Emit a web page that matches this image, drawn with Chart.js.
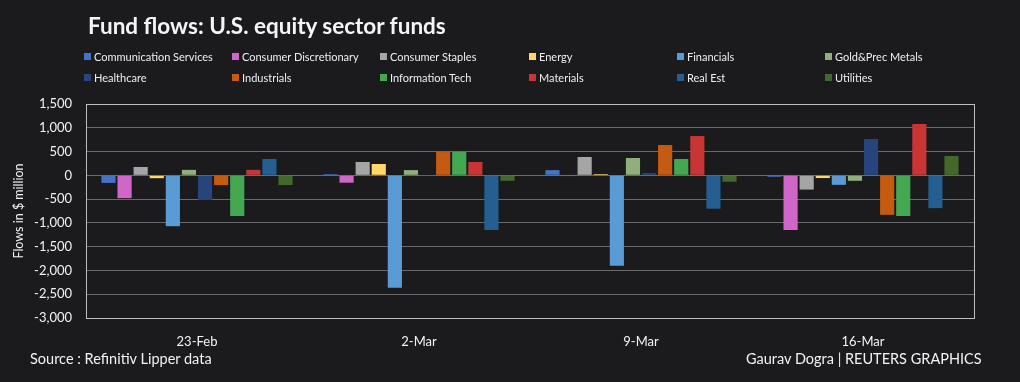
<!DOCTYPE html>
<html>
<head>
<meta charset="utf-8">
<script src="https://cdn.jsdelivr.net/npm/chart.js@4"></script>
<style>
  html, body { margin: 0; padding: 0; background: #1b1b1d; }
  #wrap { position: relative; width: 1020px; height: 382px; font-family: Lato, "Open Sans", sans-serif; color: #f2f2f2; }
  #chart { position: absolute; left: 0; top: 0; }
  .title { position: absolute; left: 88px; top: 12px; font-size: 22.5px; font-weight: bold; color: #f5f5f5; }
  .leg { position: absolute; font-size: 11px; color: #eeeeee; white-space: nowrap; line-height: 12px; }
  .leg i { display: inline-block; width: 7px; height: 7px; margin-right: 3px; vertical-align: 1px; }
  .foot { position: absolute; top: 350px; font-size: 14.5px; color: #f2f2f2; }
</style>
</head>
<body>
<div id="wrap">
  <canvas id="chart" width="1020" height="382"></canvas>
  <div class="title">Fund flows: U.S. equity sector funds</div>
  <div id="legend"></div>
  <div class="foot" style="left:30px">Source : Refinitiv Lipper data</div>
  <div class="foot" style="left:746px">Gaurav Dogra | REUTERS GRAPHICS</div>
</div>
<script>
const weeks = ["23-Feb", "2-Mar", "9-Mar", "16-Mar"];
const sectors = ["Communication Services", "Consumer Discretionary", "Consumer Staples", "Energy",
  "Financials", "Gold&Prec Metals", "Healthcare", "Industrials", "Information Tech",
  "Materials", "Real Est", "Utilities"];
const colours = ["#4472c4", "#d067c8", "#a5a5a5", "#ffd966", "#5b9bd5", "#8fb07a",
  "#27457c", "#c55a11", "#44a853", "#c93434", "#255e91", "#43682b"];

// flows in $ million, one list per sector, in week order
const commServices = [-160, 25, 110, -30];
const consDisc = [-480, -155, -15, -1150];
const consStaples = [175, 280, 385, -300];
const energy = [-60, 238, 25, -57];
const financials = [-1070, -2365, -1900, -200];
const gold = [115, 110, 365, -115];
const healthcare = [-520, -15, 48, 765];
const industrials = [-205, 490, 637, -830];
const infoTech = [-855, 495, 343, -855];
const materials = [115, 280, 826, 1080];
const realEst = [343, -1150, -702, -690];
const utilities = [-205, -115, -134, 406];

const flows = [commServices, consDisc, consStaples, energy, financials, gold,
  healthcare, industrials, infoTech, materials, realEst, utilities];

const yTicks = [1500, 1000, 500, 0, -500, -1000, -1500, -2000, -2500, -3000];

// legend: 6 columns x 2 rows
const legend = document.getElementById("legend");
const colX = [84, 232, 380, 529, 677, 825];
const rowY = [51, 72];
sectors.forEach((name, i) => {
  const d = document.createElement("div");
  d.className = "leg";
  d.style.left = colX[i % 6] + "px";
  d.style.top = rowY[Math.floor(i / 6)] + "px";
  d.innerHTML = `<i style="background:${colours[i]}"></i>${name}`;
  legend.appendChild(d);
});

const frame = {
  id: "frame",
  afterDatasetsDraw(chart) {
    const a = chart.chartArea;
    const ctx = chart.ctx;
    ctx.save();
    ctx.strokeStyle = "#bfbfbf";
    ctx.lineWidth = 1;
    ctx.strokeRect(Math.round(a.left) + 0.5, Math.round(a.top) + 0.5,
      Math.round(a.right - a.left), Math.round(a.bottom - a.top));
    ctx.restore();
  }
};

new Chart(document.getElementById("chart"), {
  type: "bar",
  data: {
    labels: weeks,
    datasets: sectors.map((name, i) => ({
      label: name,
      data: flows[i],
      backgroundColor: colours[i],
      borderWidth: 0,
      categoryPercentage: 0.87,
      barPercentage: 0.88
    }))
  },
  options: {
    responsive: false,
    animation: false,
    layout: { padding: { top: 104, right: 46, bottom: 34, left: 0 } },
    plugins: {
      legend: { display: false },
      title: { display: false },
      tooltip: { enabled: false }
    },
    scales: {
      x: {
        grid: { display: false },
        border: { display: false },
        ticks: { color: "#f2f2f2", font: { family: "Lato", size: 13 }, padding: 8 },
        afterFit: s => { s.height = 30; }
      },
      y: {
        min: -3000,
        max: 1500,
        afterBuildTicks: s => { s.ticks = yTicks.map(v => ({ value: v })); },
        grid: { color: "#6a6a6a", lineWidth: 1, drawTicks: false },
        border: { display: false },
        ticks: {
          color: "#f2f2f2",
          font: { family: "Lato", size: 13 },
          padding: 14,
          callback: v => v.toLocaleString("en-US")
        },
        title: {
          display: true,
          text: "Flows in $ million",
          color: "#f2f2f2",
          font: { family: "Lato", size: 12.5 },
          padding: { top: 11, bottom: 4 }
        },
        afterFit: s => { s.width = 86; }
      }
    }
  },
  plugins: [frame]
});
</script>
</body>
</html>
